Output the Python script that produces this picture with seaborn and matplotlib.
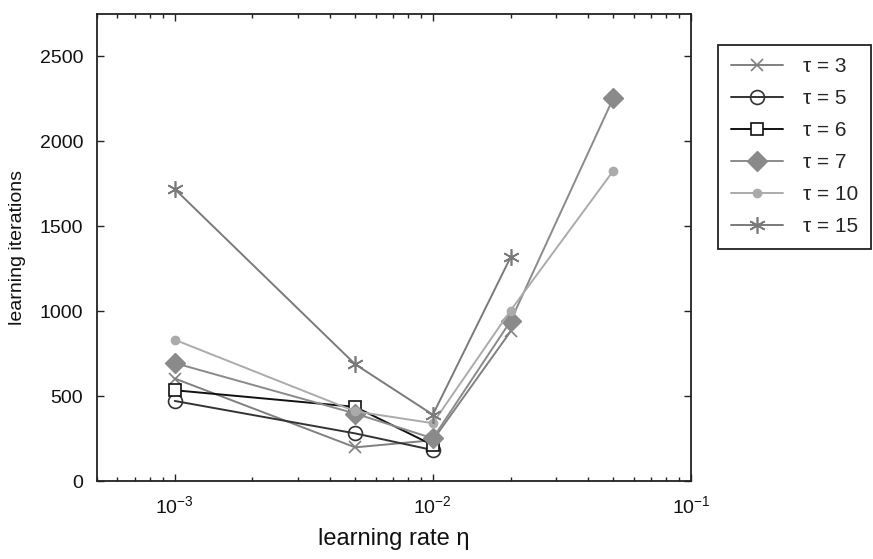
import numpy as np
import pandas as pd
import matplotlib
matplotlib.use("Agg")
import matplotlib.pyplot as plt
import seaborn as sns

# learning rate values (x) and learning iterations per tau (NaN = not measured)
eta = [1e-3, 5e-3, 1e-2, 2e-2, 5e-2]
TAUS = [3, 5, 6, 7, 10, 15]
iters_tau3  = [603, 198, 240, 880, np.nan]
iters_tau5  = [471, 280, 182, np.nan, np.nan]
iters_tau6  = [534, 436, 211, np.nan, np.nan]
iters_tau7  = [694, 397, 251, 941, 2252]
iters_tau10 = [831, 410, 340, 1003, 1825]
iters_tau15 = [1718, 687, 390, 1316, np.nan]

series = [iters_tau3, iters_tau5, iters_tau6, iters_tau7, iters_tau10, iters_tau15]

rows = []
for tau, vals in zip(TAUS, series):
    for x, y in zip(eta, vals):
        if not np.isnan(y):
            rows.append({"tau": tau, "eta": x, "iters": y})
df = pd.DataFrame(rows)

# marker styles per tau (gnuplot look)
STYLE = {
    3:  dict(color="#808080", marker="x", markersize=8.5, mew=1.2, mfc="#808080", mec="#808080"),
    5:  dict(color="#333333", marker="o", markersize=10, mew=1.2, mfc="none", mec="#333333"),
    6:  dict(color="#111111", marker="s", markersize=8, mew=1.2, mfc="white", mec="#111111"),
    7:  dict(color="#8a8a8a", marker="D", markersize=10, mew=1.0, mfc="#8a8a8a", mec="#8a8a8a"),
    10: dict(color="#ababab", marker="o", markersize=6, mew=1.0, mfc="#ababab", mec="#ababab"),
    15: dict(color="#7a7a7a", marker=(6, 2, 0), markersize=12, mew=1.2, mfc="#7a7a7a", mec="#7a7a7a"),
}

sns.set_style("ticks")
plt.rcParams["font.family"] = ["Liberation Sans", "DejaVu Sans"]
plt.rcParams["mathtext.fontset"] = "custom"
plt.rcParams["mathtext.rm"] = "Liberation Sans"
plt.rcParams["mathtext.it"] = "Liberation Sans:italic"

fig = plt.figure(figsize=(8.73, 5.59), dpi=100)
ax = fig.add_axes([97 / 873, 1 - 481 / 559, (691 - 97) / 873, (481 - 13.6) / 559])

for tau in TAUS:
    sub = df[df["tau"] == tau]
    sns.lineplot(data=sub, x="eta", y="iters", ax=ax, lw=1.4,
                 label=f"τ = {tau}", **STYLE[tau])

ax.set_xscale("log")
ax.set_xlim(5e-4, 1e-1)
ax.set_ylim(0, 2750)
ax.set_yticks([0, 500, 1000, 1500, 2000, 2500])
ax.set_xticks([1e-3, 1e-2, 1e-1])
ax.xaxis.set_minor_locator(matplotlib.ticker.LogLocator(base=10, subs=np.arange(2, 10)))
ax.xaxis.set_minor_formatter(matplotlib.ticker.NullFormatter())

ax.tick_params(axis="both", which="both", direction="in", top=True, right=True,
               labelsize=14, width=1.0, color="#222222", labelcolor="#111111")
ax.tick_params(axis="both", which="major", length=5, pad=10)
ax.tick_params(axis="both", which="minor", length=3)
for sp in ax.spines.values():
    sp.set_linewidth(1.3)
    sp.set_color("#222222")

ax.set_xlabel("learning rate η", fontsize=17, labelpad=8, color="#111111")
ax.set_ylabel("learning iterations", fontsize=14, labelpad=10, color="#111111")

handles, labels = ax.get_legend_handles_labels()
ax.get_legend().remove()
leg = fig.legend(handles, labels, loc="upper left",
                 bbox_to_anchor=(718 / 873, 1 - 45 / 559),
                 fontsize=15, frameon=True, fancybox=False, framealpha=1,
                 edgecolor="#222222", handlelength=2.5, labelspacing=0.62,
                 borderpad=0.6, borderaxespad=0, handletextpad=1.0)
leg.get_frame().set_linewidth(1.3)

fig.savefig("out.png", dpi=100)
